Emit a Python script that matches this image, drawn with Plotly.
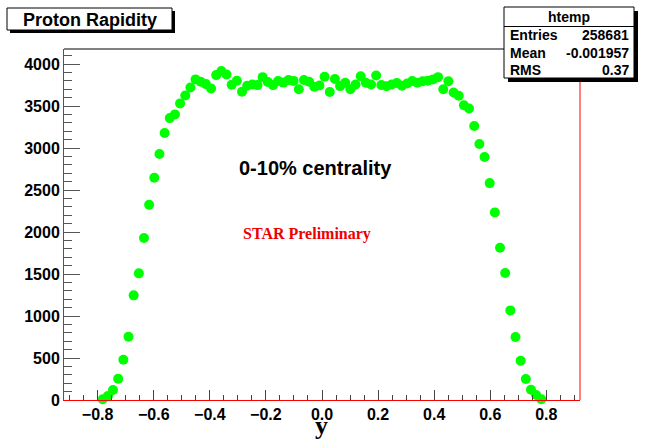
import numpy as np
import plotly.graph_objects as go

# Histogram binning of the rapidity distribution
y_lo, y_hi, n_bins = -0.92, 0.92, 100
first_bin = 7  # first filled bin

# Bin contents (counts) for bins 7..92
counts = [
    8, 48, 119, 254, 480, 754, 1246, 1508, 1929, 2325,
    2646, 2929, 3179, 3357, 3401, 3532, 3627, 3722, 3818, 3790,
    3762, 3710, 3869, 3917, 3877, 3754, 3802, 3670, 3742, 3758,
    3750, 3845, 3786, 3750, 3798, 3780, 3810, 3800, 3700, 3810,
    3790, 3730, 3745, 3849, 3668, 3822, 3738, 3778, 3700, 3758,
    3855, 3778, 3758, 3865, 3752, 3736, 3758, 3775, 3742, 3770,
    3798, 3778, 3795, 3802, 3818, 3845, 3700, 3795, 3662, 3623,
    3510, 3472, 3264, 3048, 2893, 2583, 2234, 1813, 1512, 1067,
    750, 468, 250, 123, 60, 8,
]

edges = np.linspace(y_lo, y_hi, n_bins + 1)
centres = 0.5 * (edges[:-1] + edges[1:])
x_vals = centres[first_bin:first_bin + len(counts)]

stats_rows = [("Entries", "258681"), ("Mean", "-0.001957"), ("RMS", "0.37")]

W, H = 646, 443
L, R, T, B = 64, 580, 49, 400  # plot frame in pixels


def px(x):
    return (x - L) / (R - L)


def py(y):
    return (B - y) / (B - T)


fig = go.Figure()
fig.add_trace(go.Scatter(
    x=x_vals, y=counts, mode="markers",
    marker=dict(size=10, color="#00ff00", line=dict(width=0)),
    cliponaxis=False, showlegend=False,
))

tick_font = dict(family="Liberation Sans, Arial, sans-serif", size=16,
                 color="black", weight="bold")

fig.update_xaxes(
    range=[y_lo, y_hi], tick0=0, dtick=0.2, tickformat=".1f",
    ticks="inside", ticklen=10, tickcolor="#444444", tickwidth=1,
    minor=dict(dtick=0.05, ticks="inside", ticklen=5, tickcolor="#444444"),
    showline=True, linecolor="red", linewidth=1,
    showgrid=False, zeroline=False, tickfont=tick_font,
)
fig.update_yaxes(
    range=[0, 4180], tick0=0, dtick=500,
    ticks="inside", ticklen=16, tickcolor="#555555", tickwidth=1,
    minor=dict(dtick=100, ticks="inside", ticklen=8, tickcolor="#555555"),
    showline=True, linecolor="#555555", linewidth=1,
    showgrid=False, zeroline=False, tickfont=tick_font,
)

shapes = []
# frame top (black) and right (red)
shapes.append(dict(type="line", xref="paper", yref="paper",
                   x0=0, x1=1, y0=1, y1=1, line=dict(color="black", width=1)))
shapes.append(dict(type="line", xref="paper", yref="paper",
                   x0=1, x1=1, y0=0, y1=1, line=dict(color="red", width=1)))


def box(x0, y0, x1, y1, shadow=3):
    return [
        dict(type="rect", xref="paper", yref="paper",
             x0=px(x0 + shadow), x1=px(x1 + shadow),
             y0=py(y1 + shadow), y1=py(y0 + shadow),
             fillcolor="black", line=dict(width=0)),
        dict(type="rect", xref="paper", yref="paper",
             x0=px(x0), x1=px(x1), y0=py(y1), y1=py(y0),
             fillcolor="white", line=dict(color="black", width=1)),
    ]


# title box
shapes += box(7, 8, 172, 30, shadow=3)
# statistics box
shapes += box(504, 7, 634, 78, shadow=4)
shapes.append(dict(type="line", xref="paper", yref="paper",
                   x0=px(504), x1=px(634), y0=py(26.5), y1=py(26.5),
                   line=dict(color="black", width=1)))

bold_sans = "Liberation Sans, Arial, sans-serif"
annotations = [
    dict(text="<b>Proton Rapidity</b>", x=px(89.5), y=py(19.5),
         font=dict(family=bold_sans, size=18, color="black")),
    dict(text="<b>htemp</b>", x=px(569), y=py(16.5),
         font=dict(family=bold_sans, size=14, color="black")),
    dict(text="<b>0-10% centrality</b>", x=px(315), y=py(168),
         font=dict(family=bold_sans, size=20, color="black")),
    dict(text="<b>STAR Preliminary</b>", x=px(306.5), y=py(234),
         font=dict(family="Liberation Serif, Times New Roman, serif",
                   size=16, color="#ee0000")),
    dict(text="<b>y</b>", x=px(321.7), y=py(426),
         font=dict(family="Liberation Serif, Times New Roman, serif",
                   size=26, color="black")),
]
for i, (name, val) in enumerate(stats_rows):
    yy = 35 + i * 17.5
    annotations.append(dict(text=f"<b>{name}</b>", x=px(508), y=py(yy),
                            xanchor="left",
                            font=dict(family=bold_sans, size=14, color="black")))
    annotations.append(dict(text=f"<b>{val}</b>", x=px(631), y=py(yy),
                            xanchor="right",
                            font=dict(family=bold_sans, size=14, color="black")))

for a in annotations:
    a.setdefault("xanchor", "center")
    a.update(xref="paper", yref="paper", yanchor="middle", showarrow=False)

fig.update_layout(
    width=W, height=H,
    margin=dict(l=L, r=W - R, t=T, b=H - B, pad=0),
    paper_bgcolor="white", plot_bgcolor="white",
    shapes=shapes, annotations=annotations,
)

fig.write_html("out.html")
